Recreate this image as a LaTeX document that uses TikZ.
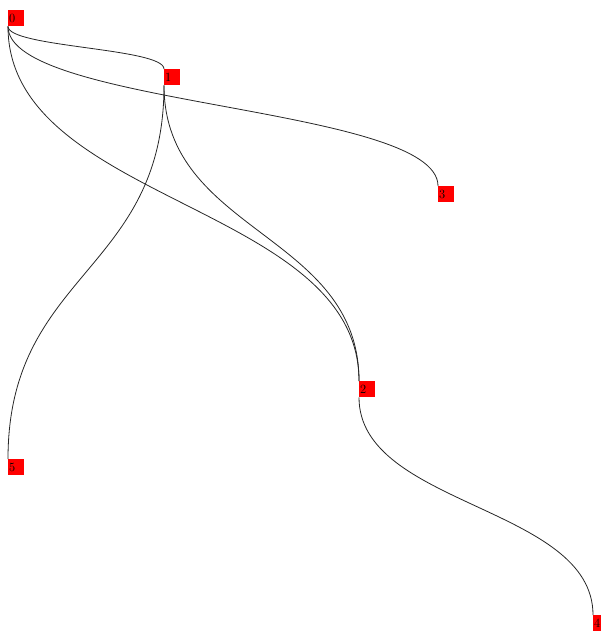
\documentclass[tikz,border=0pt]{standalone}
\usepackage{tikz}
\usetikzlibrary{positioning}
\tikzset{
  vert/.style={rectangle, fill=red, anchor=north west, inner xsep=1pt, inner ysep=0pt,
    text width=14pt, align=left, minimum height=16pt, font=\fontsize{12.5}{12.5}\selectfont},
  link/.style={draw=black!85, line width=0.8pt}
}
\begin{document}
\begin{tikzpicture}[x=1pt, y=-1pt]
\useasboundingbox (0,0) rectangle (601,631);
\node[vert] (n0) at (8,10) {0};
\node[vert] (n1) at (164,69) {1};
\node[vert] (n3) at (438,186) {3};
\node[vert] (n2) at (359,381) {2};
\node[vert] (n5) at (8,459) {5};
\node[vert] (n4) at (593,615) {4};
\draw[link] (n0.south west) .. controls +(0,21) and +(0,-21) .. (n1.north west);
\draw[link] (n0.south west) .. controls +(0,80) and +(0,-80) .. (n3.north west);
\draw[link] (n0.south west) .. controls +(0,177) and +(0,-177) .. (n2.north west);
\draw[link] (n1.south west) .. controls +(0,148) and +(0,-148) .. (n2.north west);
\draw[link] (n1.south west) .. controls +(0,187) and +(0,-187) .. (n5.north west);
\draw[link] (n2.south west) .. controls +(0,109) and +(0,-109) .. (n4.north west);
\end{tikzpicture}
\end{document}
